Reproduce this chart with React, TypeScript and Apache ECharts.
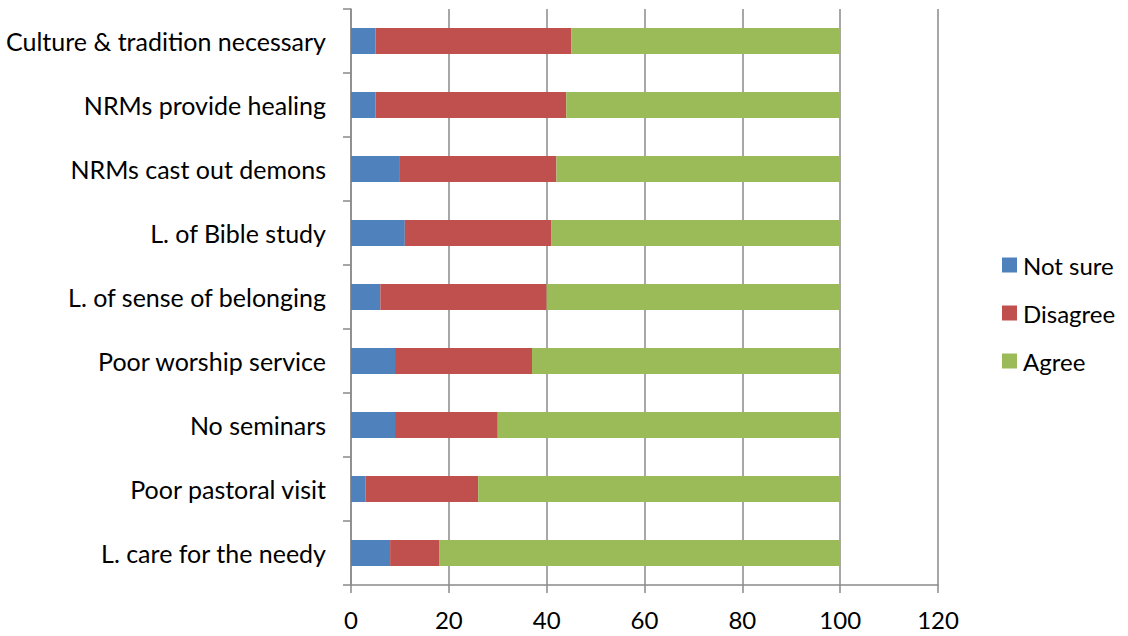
import React, { useEffect, useRef } from "react";
import * as echarts from "echarts";

// bottom-to-top order
const categories = [
  "L. care for the needy",
  "Poor pastoral visit",
  "No seminars",
  "Poor worship service",
  "L. of sense of belonging",
  "L. of Bible study",
  "NRMs cast out demons",
  "NRMs provide healing",
  "Culture & tradition necessary",
];
const notSure = [8, 3, 9, 9, 6, 11, 10, 5, 5];
const disagree = [10, 23, 21, 28, 34, 30, 32, 39, 40];
const agree = [82, 74, 70, 63, 60, 59, 58, 56, 55];
const xTicks = { min: 0, max: 120, interval: 20 };

const FONT = "Lato";

export default function App() {
  const ref = useRef<HTMLDivElement>(null);
  useEffect(() => {
    if (!ref.current) return;
    const chart = echarts.init(ref.current, undefined, { renderer: "svg" });
    const gridColor = "#8a8a8a";
    chart.setOption({
      animation: false,
      textStyle: { fontFamily: FONT, color: "#000" },
      grid: { left: 351, top: 9, right: 190, bottom: 51, containLabel: false },
      legend: {
        orient: "vertical",
        left: 1002,
        top: 253,
        padding: 0,
        itemWidth: 15,
        itemHeight: 15,
        itemGap: 24,
        itemStyle: { borderWidth: 0 },
        icon: "rect",
        textStyle: { fontFamily: FONT, fontSize: 24, color: "#000", padding: [0, 0, 0, 1] },
        data: ["Not sure", "Disagree", "Agree"],
      },
      xAxis: {
        type: "value",
        min: xTicks.min,
        max: xTicks.max,
        interval: xTicks.interval,
        axisLine: { show: true, lineStyle: { color: gridColor, width: 1.5 } },
        axisTick: { show: true, length: 8, lineStyle: { color: gridColor, width: 1.5 } },
        axisLabel: { margin: 22, fontSize: 24, color: "#000", fontFamily: FONT },
        splitLine: { show: true, lineStyle: { color: gridColor, width: 1.5 } },
      },
      yAxis: {
        type: "category",
        data: categories,
        axisLine: { show: true, lineStyle: { color: gridColor, width: 1.5 } },
        axisTick: { show: true, length: 8, lineStyle: { color: gridColor, width: 1.5 } },
        axisLabel: { margin: 25, fontSize: 25, color: "#000", fontFamily: FONT },
        splitLine: { show: false },
      },
      series: [
        { name: "Not sure", type: "bar", stack: "t", data: notSure, barWidth: 26, itemStyle: { color: "#4F81BD" } },
        { name: "Disagree", type: "bar", stack: "t", data: disagree, barWidth: 26, itemStyle: { color: "#C0504D" } },
        { name: "Agree", type: "bar", stack: "t", data: agree, barWidth: 26, itemStyle: { color: "#9BBB59" } },
      ],
    });
    return () => chart.dispose();
  }, []);
  return (
    <div
      ref={ref}
      style={{ position: "fixed", left: 0, top: 0, width: 1128, height: 636, background: "#fff" }}
    />
  );
}
